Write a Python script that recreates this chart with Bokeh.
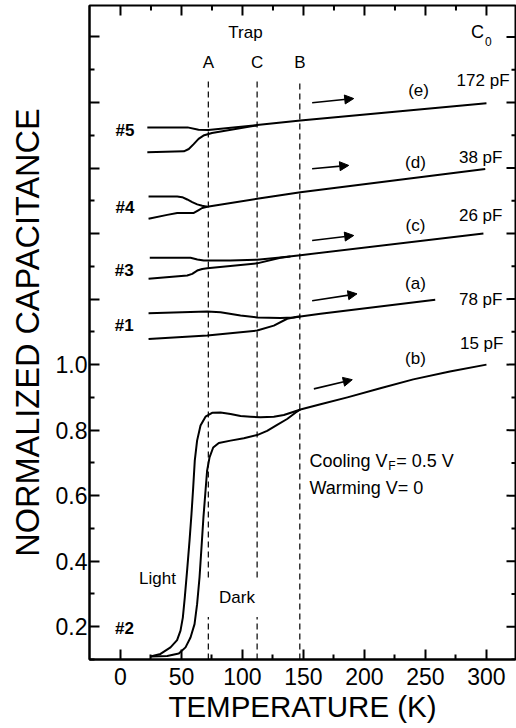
import math
from bokeh.plotting import figure
from bokeh.models import Range1d, FixedTicker, CustomJSTickFormatter, Arrow, NormalHead
from bokeh.core.properties import value
from bokeh.embed import file_html
from bokeh.resources import INLINE

FONT = "Liberation Sans"

# ---------------- data ----------------
T_MIN, T_MAX = -25.4, 323.8
C_MIN, C_MAX = 0.1, 2.096
t_ticks = [0, 50, 100, 150, 200, 250, 300]
t_minor = [25, 75, 125, 175, 225, 275]
c_ticks = [0.2, 0.4, 0.6, 0.8, 1.0, 1.2, 1.4, 1.6, 1.8, 2.0]
c_minor = [0.1, 0.3, 0.5, 0.7, 0.9, 1.1, 1.3, 1.5, 1.7, 1.9]

trap_names = ["A", "C", "B"]
trap_T = [72, 112, 147]
trap_top = 1.867
trap_gap = [(0.23, 0.35), (0.23, 0.35), None]

# sample #5 (e)
e_up_T = [22, 55, 64, 72, 112, 147.5, 300]
e_up_C = [1.724, 1.724, 1.717, 1.716, 1.731, 1.745, 1.798]
e_lo_T = [22, 52, 56, 60, 64, 68, 75, 112]
e_lo_C = [1.648, 1.651, 1.658, 1.673, 1.689, 1.699, 1.707, 1.730]
# sample #4 (d)
d_up_T = [23, 46.5, 50.6, 54.7, 58.8, 62.9, 67, 71.1, 112, 147.5, 299]
d_up_C = [1.513, 1.513, 1.511, 1.504, 1.496, 1.489, 1.485, 1.482, 1.506, 1.526, 1.597]
d_lo_T = [23, 38.3, 46.5, 60.1, 63.4, 67, 71.1]
d_lo_C = [1.445, 1.457, 1.463, 1.463, 1.470, 1.478, 1.482]
# sample #3 (c)
c_up_T = [24, 57.4, 63, 68.3, 90, 112, 131, 147.5, 297.5]
c_up_C = [1.326, 1.326, 1.321, 1.318, 1.318, 1.320, 1.327, 1.334, 1.400]
c_lo_T = [23, 54.7, 58.8, 62.9, 67, 71.1, 112, 131.1, 139.3]
c_lo_C = [1.262, 1.272, 1.277, 1.287, 1.292, 1.294, 1.309, 1.326, 1.330]
# sample #1 (a)
a_up_T = [23, 71.1, 82, 98.4, 112, 131, 142, 147.5, 164, 258]
a_up_C = [1.157, 1.162, 1.160, 1.150, 1.144, 1.142, 1.144, 1.147, 1.155, 1.198]
a_lo_T = [23, 71.1, 112, 125.7, 136.6, 144.8, 147.5]
a_lo_C = [1.078, 1.089, 1.104, 1.119, 1.140, 1.146, 1.147]
# sample #2 (b) light / dark
b_light_T = [24.6, 32.8, 41.0, 46.4, 49.2, 51.1, 52.7, 54.6, 56.6, 58.2, 59.6, 60.9, 62.8,
             65.6, 69.7, 75.1, 82.0, 90.2, 98.4, 106.6, 114.8, 125.7, 133.9, 142.1, 147.5,
             164, 186, 213, 240, 270, 300]
b_light_C = [0.109, 0.117, 0.137, 0.159, 0.188, 0.228, 0.289, 0.371, 0.463, 0.544, 0.625,
             0.707, 0.768, 0.814, 0.841, 0.853, 0.854, 0.849, 0.843, 0.841, 0.839, 0.841,
             0.846, 0.856, 0.863, 0.879, 0.900, 0.928, 0.955, 0.979, 1.0]
b_dark_T = [24.6, 38.3, 47.8, 53.3, 57.4, 60.7, 62.8, 64.8, 66.4, 68.0, 69.7, 71.0, 73.0,
            76.0, 80.6, 90.2, 101.1, 112.0, 120.2, 128.4, 136.6, 143.4, 147.5]
b_dark_C = [0.109, 0.111, 0.118, 0.137, 0.167, 0.208, 0.269, 0.351, 0.442, 0.534, 0.615,
            0.676, 0.717, 0.747, 0.761, 0.768, 0.775, 0.785, 0.798, 0.816, 0.834, 0.853, 0.863]

# warming-direction arrows
arrow_T0 = [157.1, 157.1, 157.1, 157.1, 158.5]
arrow_C0 = [1.799, 1.598, 1.379, 1.195, 0.926]
arrow_T1 = [191.2, 187.1, 191.2, 193.9, 190.0]
arrow_C1 = [1.812, 1.608, 1.394, 1.216, 0.954]

# labels
curve_names = ["(e)", "(d)", "(c)", "(a)", "(b)"]
curve_name_T = [244.3, 241.8, 241.8, 241.8, 241.8]
curve_name_C = [1.837, 1.617, 1.424, 1.247, 1.018]
c0_values = ["172 pF", "38 pF", "26 pF", "78 pF", "15 pF"]
c0_T = [318.9, 313.1, 313.1, 313.1, 313.9]
c0_C = [1.867, 1.632, 1.455, 1.200, 1.064]
sample_names = ["#5", "#4", "#3", "#1", "#2"]
sample_T = [3.7, 3.7, 3.0, 3.0, 3.3]
sample_C = [1.714, 1.479, 1.287, 1.119, 0.194]

# ---------------- figure ----------------
p = figure(width=516, height=728, output_backend="svg", toolbar_location=None,
           x_range=Range1d(T_MIN, T_MAX), y_range=Range1d(C_MIN, C_MAX),
           min_border_left=89, min_border_right=1, min_border_top=5, min_border_bottom=69)
p.xgrid.visible = False
p.ygrid.visible = False
p.outline_line_color = "black"
p.outline_line_width = 2
p.background_fill_color = "white"


def style_axis(ax):
    ax.major_tick_in = 10
    ax.major_tick_out = 0
    ax.minor_tick_in = 5
    ax.minor_tick_out = 0
    ax.axis_line_width = 2
    ax.major_tick_line_width = 2
    ax.minor_tick_line_width = 2
    ax.axis_line_color = "black"
    ax.major_tick_line_color = "black"
    ax.minor_tick_line_color = "black"
    ax.major_label_text_font = FONT
    ax.major_label_text_color = "black"
    ax.major_label_text_font_size = "23px"
    ax.axis_label_text_font = FONT
    ax.axis_label_text_font_style = "normal"
    ax.axis_label_text_color = "black"


xa = p.xaxis[0]
xa.ticker = FixedTicker(ticks=t_ticks, minor_ticks=t_minor)
style_axis(xa)
xa.major_label_standoff = 8
xa.axis_label = "TEMPERATURE (K)"
xa.axis_label_text_font_size = "29.5px"
xa.axis_label_standoff = 2

ya = p.yaxis[0]
ya.ticker = FixedTicker(ticks=c_ticks, minor_ticks=c_minor)
style_axis(ya)
ya.major_label_standoff = 2
ya.formatter = CustomJSTickFormatter(code="return tick <= 1.0001 ? tick.toFixed(1) : '';")
ya.axis_label = "NORMALIZED CAPACITANCE"
ya.axis_label_text_font_size = "32.5px"
ya.axis_label_standoff = 7

# inward ticks on the top and right edges (half of each dash is clipped by the frame)
p.scatter(x=t_ticks, y=[C_MAX] * len(t_ticks), marker="dash", size=20, angle=math.pi / 2,
          line_color="black", line_width=2)
p.scatter(x=t_minor, y=[C_MAX] * len(t_minor), marker="dash", size=10, angle=math.pi / 2,
          line_color="black", line_width=2)
p.scatter(x=[T_MAX] * len(c_ticks), y=c_ticks, marker="dash", size=18,
          line_color="black", line_width=2)
p.scatter(x=[T_MAX] * len(c_minor), y=c_minor, marker="dash", size=8,
          line_color="black", line_width=2)

# trap dashed lines
for T, gap in zip(trap_T, trap_gap):
    if gap is None:
        p.segment(x0=[T], y0=[C_MIN], x1=[T], y1=[trap_top], line_color="black",
                  line_width=1.2, line_dash="6 4")
    else:
        p.segment(x0=[T, T], y0=[C_MIN, gap[1]], x1=[T, T], y1=[gap[0], trap_top],
                  line_color="black", line_width=1.2, line_dash="6 4")

# curves
for xs, ys in [(e_up_T, e_up_C), (e_lo_T, e_lo_C), (d_up_T, d_up_C), (d_lo_T, d_lo_C),
               (c_up_T, c_up_C), (c_lo_T, c_lo_C), (a_up_T, a_up_C), (a_lo_T, a_lo_C),
               (b_light_T, b_light_C), (b_dark_T, b_dark_C)]:
    p.line(xs, ys, line_color="black", line_width=2, line_join="round")

# arrows
for x0, y0, x1, y1 in zip(arrow_T0, arrow_C0, arrow_T1, arrow_C1):
    p.add_layout(Arrow(end=NormalHead(size=9, fill_color="black", line_color="black",
                                      line_width=1),
                       x_start=x0, y_start=y0, x_end=x1, y_end=y1,
                       line_color="black", line_width=1.6))

txt = dict(text_font=value(FONT), text_color="black", text_baseline="middle")
p.text(x=curve_name_T, y=curve_name_C, text=curve_names, text_font_size="17px",
       text_align="center", **txt)
p.text(x=c0_T, y=c0_C, text=c0_values, text_font_size="17px", text_align="right", **txt)
p.text(x=sample_T, y=sample_C, text=sample_names, text_font_size="17px",
       text_font_style="bold", text_align="center", **txt)
p.text(x=trap_T, y=[1.922] * 3, text=trap_names, text_font_size="17px",
       text_align="center", **txt)
p.text(x=[102.5], y=[2.014], text=["Trap"], text_font_size="17px", text_align="center", **txt)
p.text(x=[292.6], y=[2.014], text=["C"], text_font_size="18px", text_align="center", **txt)
p.text(x=[301.6], y=[1.986], text=["0"], text_font_size="12px", text_align="center", **txt)
p.text(x=[30.3], y=[0.347], text=["Light"], text_font_size="17px", text_align="center", **txt)
p.text(x=[95.5], y=[0.289], text=["Dark"], text_font_size="17px", text_align="center", **txt)
p.text(x=[154.9], y=[0.707], text=["Cooling V"], text_font_size="18px", text_align="left", **txt)
p.text(x=[219.5], y=[0.692], text=["F"], text_font_size="12px", text_align="left", **txt)
p.text(x=[226.0], y=[0.707], text=["= 0.5 V"], text_font_size="18px", text_align="left", **txt)
p.text(x=[154.9], y=[0.624], text=["Warming V= 0"], text_font_size="18px", text_align="left", **txt)

open("out.html", "w").write(file_html(p, INLINE))
